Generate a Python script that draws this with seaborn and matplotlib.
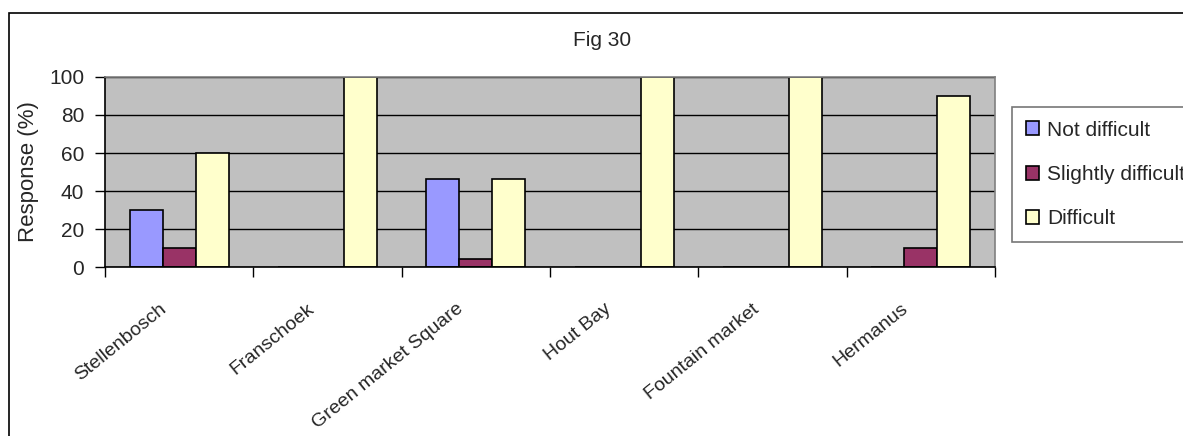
import matplotlib
matplotlib.use("Agg")
import matplotlib.pyplot as plt
import matplotlib.patches as mpatches
import matplotlib.transforms as mtransforms
import seaborn as sns
import pandas as pd

# Survey responses (%) per market
markets = ["Stellenbosch", "Franschoek", "Green market Square",
           "Hout Bay", "Fountain market", "Hermanus"]
not_difficult = [30, 0, 46.5, 0, 0, 0]
slightly_difficult = [10, 0, 4.4, 0, 0, 10]
difficult = [60, 100, 46.5, 100, 100, 90]
series_names = ["Not difficult", "Slightly difficult", "Difficult"]
series_colors = ["#9999FF", "#993366", "#FFFFCC"]
y_ticks = [0, 20, 40, 60, 80, 100]

df = pd.DataFrame({
    "Market": markets * 3,
    "Series": sum([[s] * len(markets) for s in series_names], []),
    "Response": not_difficult + slightly_difficult + difficult,
})

sns.set_theme(style="white")
plt.rcParams["font.family"] = ["Liberation Sans", "DejaVu Sans"]

W, H = 1183, 436
fig = plt.figure(figsize=(W / 100, H / 100), dpi=100)
ax = fig.add_axes([105 / W, 1 - 267 / H, (995 - 105) / W, (267 - 77) / H])

sns.barplot(data=df, x="Market", y="Response", hue="Series",
            order=markets, hue_order=series_names,
            palette=series_colors, width=0.667, gap=0,
            edgecolor="black", linewidth=1.2, saturation=1,
            legend=False, ax=ax)

ax.set_facecolor("#C0C0C0")
ax.set_xlim(-0.5, len(markets) - 0.5)
ax.set_ylim(0, 100)
ax.set_yticks(y_ticks)
ax.yaxis.grid(True, color="black", linewidth=1)
ax.set_axisbelow(True)

for side in ["top", "right"]:
    ax.spines[side].set_color("#808080")
    ax.spines[side].set_linewidth(1.2)
for side in ["left", "bottom"]:
    ax.spines[side].set_color("black")
    ax.spines[side].set_linewidth(1.2)

fs = 15
ax.tick_params(axis="y", which="major", direction="out", length=7,
               width=1, color="black", labelsize=fs, pad=8, left=True)
ax.set_xlabel("")
ax.set_ylabel("Response (%)", fontsize=16, labelpad=7)

# ticks on the category boundaries, labels at the category centres
ax.set_xticks([i - 0.5 for i in range(len(markets) + 1)], minor=True)
ax.tick_params(axis="x", which="minor", direction="out", length=7,
               width=1, color="black", bottom=True)
ax.set_xticks(range(len(markets)))
ax.set_xticklabels(markets, rotation=39, ha="right", va="center",
                   rotation_mode="anchor", fontsize=14)
ax.tick_params(axis="x", which="major", length=0, pad=0)
offset = mtransforms.ScaledTranslation(-15 / 100, -40 / 100, fig.dpi_scale_trans)
for lbl in ax.get_xticklabels():
    lbl.set_transform(lbl.get_transform() + offset)

fig.text(573 / W, 1 - 40 / H, "Fig 30", fontsize=fs, ha="left", va="center")

handles = [mpatches.Patch(facecolor=c, edgecolor="black", linewidth=1.2)
           for c in series_colors]
leg = fig.legend(handles, series_names, loc="upper left",
                 bbox_to_anchor=(1012 / W, 1 - 107 / H),
                 fontsize=fs, frameon=True, fancybox=False,
                 borderpad=0.65, labelspacing=1.22,
                 handlelength=0.65, handleheight=0.65, handletextpad=0.4,
                 borderaxespad=0)
leg.get_frame().set_edgecolor("#555555")
leg.get_frame().set_linewidth(1.2)

# outer chart border (runs off the right and bottom edges)
fig.patches.append(mpatches.Rectangle((8.5 / W, -0.1), 1.2, 1.1 - 13.5 / H,
                                      transform=fig.transFigure,
                                      fill=False, edgecolor="black",
                                      linewidth=1.2))

fig.savefig("out.png", dpi=100)
